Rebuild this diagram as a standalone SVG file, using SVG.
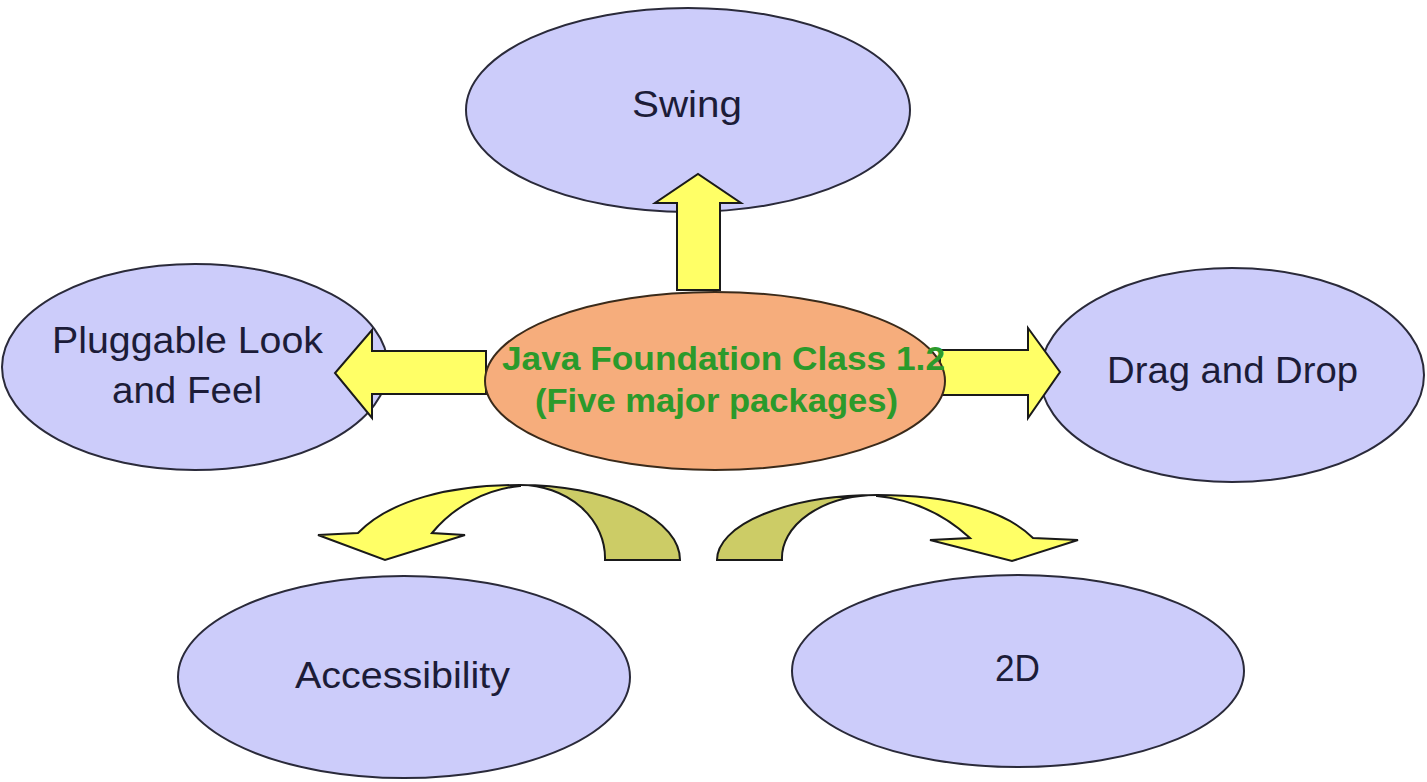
<svg xmlns="http://www.w3.org/2000/svg" width="1427" height="782" viewBox="0 0 1427 782">
<style>
.node{fill:#ccccfa;stroke:#2a2a3a;stroke-width:2}
.core{fill:#f6ad7c;stroke:#3a2a1a;stroke-width:2}
.lbl{font-family:"Liberation Sans",Arial,sans-serif;font-size:37px;fill:#1c1c38}
.clbl{font-family:"Liberation Sans",Arial,sans-serif;font-size:34px;font-weight:bold;fill:#2b9a2b}
.arr{fill:#ffff66;stroke:#1a1a1a;stroke-width:2;stroke-linejoin:miter}
.back{fill:#cccc66;stroke:#1a1a1a;stroke-width:2}
</style>
<rect width="1427" height="782" fill="#ffffff"/>
<g id="swing"><ellipse class="node" cx="688" cy="110" rx="222" ry="102"/><text class="lbl" x="632" y="117" textLength="110" lengthAdjust="spacingAndGlyphs">Swing</text></g>
<g id="plaf"><ellipse class="node" cx="195" cy="367" rx="193" ry="103"/><text class="lbl" x="52" y="353" textLength="271" lengthAdjust="spacingAndGlyphs">Pluggable Look</text><text class="lbl" x="112" y="403" textLength="150" lengthAdjust="spacingAndGlyphs">and Feel</text></g>
<g id="dnd"><ellipse class="node" cx="1232" cy="375" rx="192" ry="107"/><text class="lbl" x="1107" y="383" textLength="251" lengthAdjust="spacingAndGlyphs">Drag and Drop</text></g>
<g id="access"><ellipse class="node" cx="404" cy="677" rx="226" ry="101"/><text class="lbl" x="295" y="688" textLength="215" lengthAdjust="spacingAndGlyphs">Accessibility</text></g>
<g id="twod"><ellipse class="node" cx="1018" cy="671" rx="226" ry="96"/><text class="lbl" x="995" y="681" textLength="45" lengthAdjust="spacingAndGlyphs">2D</text></g>
<g id="connectors">
<path class="arr" d="M677,290 L677,203 L655,203 L698,174 L741,203 L720,203 L720,290 Z"/>
<path class="arr" d="M486,351 L372,351 L372,330 L335,373 L372,418 L372,394 L486,394 Z"/>
<path class="arr" d="M940,350 L1028,350 L1028,328 L1060,372 L1028,418 L1028,395 L940,395 Z"/>
<path class="back" d="M680,560 A160,75 0 0 0 520,485 A85,73 0 0 1 605,560 Z"/>
<path class="arr" d="M520,485 C450,485 390,500 358,533 L318,535 L385,560 L465,535 L432,533 C455,505 488,489 520,486 Z"/>
<path class="back" d="M717,560 A160,65 0 0 1 877,495 A95,63 0 0 0 782,560 Z"/>
<path class="arr" d="M877,495 C950,495 1005,510 1033,538 L1078,540 L1012,561 L930,540 L970,538 C945,515 915,500 877,496 Z"/>
</g>
<g id="jfc"><ellipse class="core" cx="715" cy="381" rx="230" ry="89"/><text class="clbl" x="502" y="370" textLength="443" lengthAdjust="spacingAndGlyphs">Java Foundation Class 1.2</text><text class="clbl" x="535" y="412" textLength="363" lengthAdjust="spacingAndGlyphs">(Five major packages)</text></g>
</svg>
